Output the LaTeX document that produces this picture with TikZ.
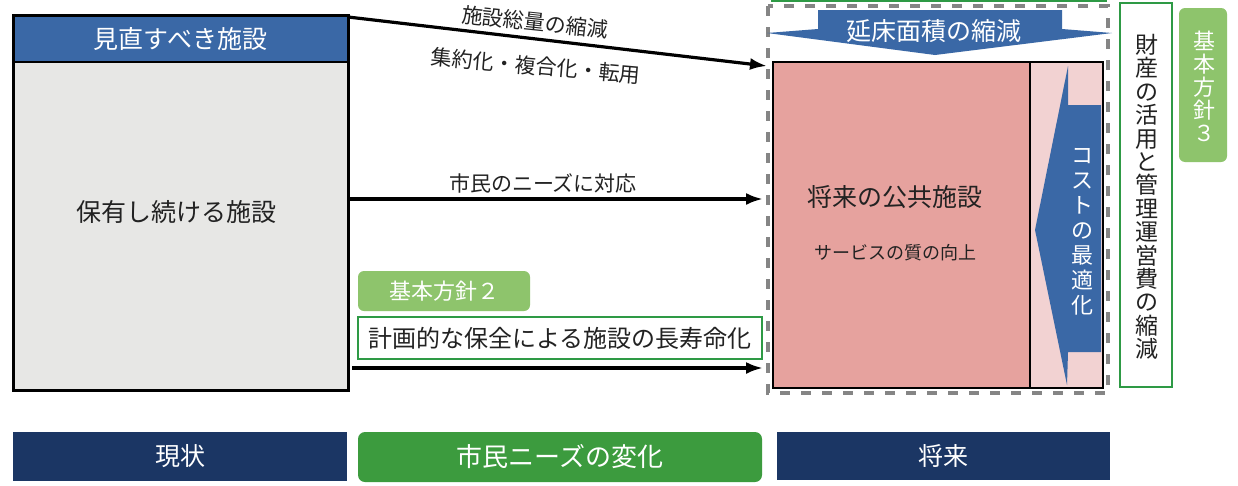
\documentclass[tikz,border=0pt]{standalone}
\usepackage{fontspec}
\setmainfont{Noto Sans CJK JP}
\usetikzlibrary{arrows.meta}
\definecolor{hdrblue}{HTML}{3A68A6}
\definecolor{bodygrey}{HTML}{E7E7E5}
\definecolor{navy}{HTML}{1B3664}
\definecolor{bargreen}{HTML}{3C9B3E}
\definecolor{ltgreen}{HTML}{8EC46C}
\definecolor{grnborder}{HTML}{2E9A45}
\definecolor{pinkbox}{HTML}{E6A29E}
\definecolor{ltpink}{HTML}{F2D2D2}
\definecolor{dashgrey}{HTML}{858585}
\definecolor{ink}{HTML}{222222}
\newcommand{\fs}[1]{\fontsize{#1}{#1}\selectfont}
\begin{document}
\begin{tikzpicture}[x=1pt,y=-1pt,
  every node/.style={inner sep=0pt, outer sep=0pt, text=ink},
  flow/.style={line width=3.2pt, -{Latex[length=17pt,width=12pt]}},
  bar/.style={anchor=north west, text=white, font=\fs{25}},
  tag/.style={fill=ltgreen, rounded corners=6pt, anchor=north west, text=white},
  gbox/.style={draw=grnborder, line width=2.4pt, fill=white, anchor=north west}]
\useasboundingbox (0,0) rectangle (1238,485);
\fill[white] (0,0) rectangle (1238,485);

% left block
\node[fill=bodygrey, minimum width=335pt, minimum height=328pt, anchor=north west] (body) at (13,62) {};
\node[fill=hdrblue, minimum width=335pt, minimum height=47pt, anchor=north west, text=white, font=\fs{25}] (hdr) at (13,15) {見直すべき施設};
\node[draw, line width=3pt, minimum width=335pt, minimum height=375pt, anchor=north west] (left) at (13,15) {};
\draw[line width=2pt] (hdr.south west) -- (hdr.south east);
\node[font=\fs{25}] (keep) at (176,212) {保有し続ける施設};

% future block
\draw[dashgrey, line width=3.2pt, dash pattern=on 10pt off 11pt] (768,6) rectangle (1108,393);
\draw[grnborder, line width=2.4pt] (771,1) -- (1107,1);
\node[draw, line width=2.4pt, fill=pinkbox, minimum width=257pt, minimum height=326pt, anchor=north west] (fut) at (773,62) {};
\node[draw, line width=2.4pt, fill=ltpink, minimum width=73pt, minimum height=326pt, anchor=north west] (strip) at (1030,62) {};
\fill[hdrblue] (1068,66) -- (1068,105) -- (1101,105) -- (1101,352) -- (1068,352) -- (1067,385) -- (1035,230) -- cycle;
\node[text=white, font=\fs{22}, align=center, execute at begin node={\baselineskip=25pt}] (cost) at (1082,232) {コ\\ス\\ト\\の\\最\\適\\化};
\node[font=\fs{25}] (futname) at (895,197) {将来の公共施設};
\node[font=\fs{18}] (svc) at (895,253) {サービスの質の向上};
\fill[hdrblue] (818,10) -- (1062,10) -- (1062,29) -- (1112,33) -- (935,55) -- (767,33) -- (818,29) -- cycle;
\node[text=white, font=\fs{25}] (shrink) at (934,31) {延床面積の縮減};

% right boxes
\node[gbox, minimum width=52pt, minimum height=384pt] (assetbox) at (1120,3) {};
\node[font=\fs{23}, align=center, execute at begin node={\baselineskip=23.4pt}] (asset) at (1147,197) {財\\産\\の\\活\\用\\と\\管\\理\\運\\営\\費\\の\\縮\\減};
\node[tag, minimum width=48pt, minimum height=154pt] (p3box) at (1179,8) {};
\node[text=white, font=\fs{22}, align=center, execute at begin node={\baselineskip=23pt}] (p3) at (1204,86) {基\\本\\方\\針\\３};

% middle
\node[tag, minimum width=172pt, minimum height=40pt, font=\fs{22}] (p2) at (358,271) {基本方針２};
\node[gbox, minimum width=404pt, minimum height=42pt, font=\fs{24}] (plan) at (358,317) {計画的な保全による施設の長寿命化};

% arrows
\coordinate (a1e) at (767,66);
\coordinate (a2e) at (763,199);
\coordinate (a3e) at (763,368);
\draw[flow] (left.north east) ++(0,2) -- (a1e);
\draw[flow] (left.east |- a2e) -- (a2e);
\draw[flow] (left.east |- a3e) ++(4,0) -- (a3e);
\node[font=\fs{21}, rotate=-6] (l1) at (535,22) {施設総量の縮減};
\node[font=\fs{21}, rotate=-5] (l2) at (536,66) {集約化・複合化・転用};
\node[font=\fs{21}] (l3) at (543,183) {市民のニーズに対応};

% bottom bars
\node[bar, fill=navy, minimum width=334pt, minimum height=49pt] (now) at (13,432) {現状};
\node[bar, fill=bargreen, rounded corners=7pt, minimum width=404pt, minimum height=50pt, font=\fs{26}] (needs) at (358,432) {市民ニーズの変化};
\node[bar, fill=navy, minimum width=333pt, minimum height=48pt] (later) at (777,432) {将来};
\end{tikzpicture}
\end{document}
